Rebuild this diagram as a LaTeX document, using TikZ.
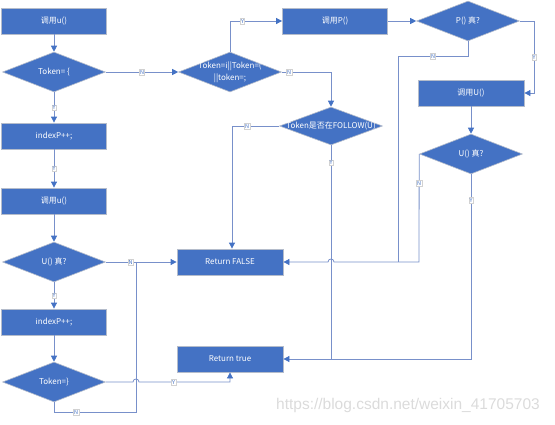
\documentclass[tikz,border=0pt]{standalone}
\usepackage{fontspec}
\newfontfamily\cjk{Noto Sans CJK SC}
\usetikzlibrary{shapes.geometric,arrows.meta}
\definecolor{boxblue}{RGB}{68,114,196}
\definecolor{boxedge}{RGB}{180,188,203}
\definecolor{linecol}{RGB}{120,144,202}
\begin{document}
\begin{tikzpicture}[x=1pt,y=-1pt,
	box/.style={rectangle, fill=boxblue, draw=boxedge, line width=0.8pt, minimum width=105pt, minimum height=26pt, text=white, font=\cjk\fontsize{8}{10}\selectfont},
	dec/.style={diamond, fill=boxblue, draw=boxedge, line width=0.6pt, minimum width=103pt, minimum height=40pt, inner sep=0pt, text=white, font=\cjk\fontsize{8}{10}\selectfont},
	flow/.style={draw=linecol, line width=0.8pt, -{Triangle[length=6pt,width=6pt,color=boxblue]}},
	merge/.style={draw=linecol, line width=0.8pt},
	yn/.style={fill=white, draw=gray!35, line width=0.2pt, inner sep=0.6pt, text=boxblue, font=\cjk\fontsize{5.5}{6}\selectfont}]
	\useasboundingbox (0,0) rectangle (555,424);
	% left column
	\node[box] (callu1) at (54,21) {调用u()};
	\node[dec] (tokopen) at (54,72) {\makebox[0pt]{Token= \{}};
	\node[box] (incr1) at (54,136) {indexP++;};
	\node[box] (callu2) at (54,201) {调用u()};
	\node[dec] (utrue1) at (54,262) {\makebox[0pt]{U() 真?}};
	\node[box] (incr2) at (54,322) {indexP++;};
	\node[dec] (tokclose) at (54,382) {\makebox[0pt]{Token=\}}};
	% middle and right
	\node[box, minimum width=106pt] (retfalse) at (230,262) {Return FALSE};
	\node[box, minimum width=106pt] (rettrue) at (230,359) {Return true};
	\node[dec] (tokfirst) at (230,72) {\makebox[0pt]{\shortstack{Token=i||Token=(\\||token=;}}};
	\node[box] (callp) at (335,21) {调用P()};
	\node[dec] (ptrue) at (468,21) {\makebox[0pt]{P() 真?}};
	\node[box, minimum width=106pt] (callu3) at (471,93) {调用U()};
	\node[dec] (utrue2) at (471,154) {\makebox[0pt]{U() 真?}};
	\node[dec, minimum height=38pt] (follow) at (331,126) {\makebox[0pt]{Token是否在FOLLOW(U)}};
	% bend points
	\coordinate (lowN) at (54,412);
	\coordinate (midN) at (136,412);
	\coordinate (midJ) at (136,262);
	\coordinate (pN) at (468,56);
	\coordinate (pNx) at (398,56);
	\coordinate (pJ) at (398,262);
	\coordinate (fJ) at (331,359);
	% connectors
	\draw[flow] (callu1) -- (tokopen);
	\draw[flow] (tokopen) -- node[yn] {Y} (incr1);
	\draw[flow] (incr1) -- node[yn] {Y} (callu2);
	\draw[flow] (callu2) -- (utrue1);
	\draw[flow] (utrue1) -- node[yn] {Y} (incr2);
	\draw[flow] (incr2) -- (tokclose);
	\draw[flow] (utrue1.east) -- node[yn, pos=0.35] {N} (retfalse.west);
	\draw[merge] (tokclose.south) -- (lowN) -- node[yn, pos=0.27] {N} (midN) -- (midJ);
	\draw[flow] (tokclose.east) -- (133,382) .. controls (133,378) and (139,378) .. (139,382) -- node[yn, pos=0.38] {Y} (rettrue.south |- 0,382) -- (rettrue.south);
	\draw[flow] (tokopen.east) -- node[yn] {N} (tokfirst.west);
	\draw[flow] (tokfirst.north) |- node[yn, pos=0.62] {Y} (callp.west);
	\draw[flow] (callp.east) -- (ptrue.west);
	\draw[flow] (ptrue.east) -- (534,21) -- node[yn] {Y} (534,93) -- (callu3.east);
	\draw[flow] (callu3) -- (utrue2);
	\draw[merge] (ptrue.south) -- (pN) -- node[yn, pos=0.5] {N} (pNx) -- (pJ);
	\draw[flow] (utrue2.west) -- node[yn, pos=0.27] {N} (419,262) -- (334,262) .. controls (334,258) and (328,258) .. (328,262) -- (retfalse.east);
	\draw[flow] (utrue2.south) -- node[yn, pos=0.14] {Y} (471,359) -- (rettrue.east);
	\draw[flow] (tokfirst.east) -- node[yn, pos=0.15] {N} (331,72) -- (follow.north);
	\draw[flow] (follow.west) -- node[yn, pos=0.68] {N} (232,126) -- (retfalse.north -| 232,0);
	\draw[merge] (follow.south) -- node[yn, pos=0.08] {Y} (fJ);
	% watermark
	\node[text=gray!28, font=\fontspec{Liberation Sans}\fontsize{15.5}{16}\selectfont] (mark) at (408,405) {https://blog.csdn.net/weixin\_41705703};
\end{tikzpicture}
\end{document}
